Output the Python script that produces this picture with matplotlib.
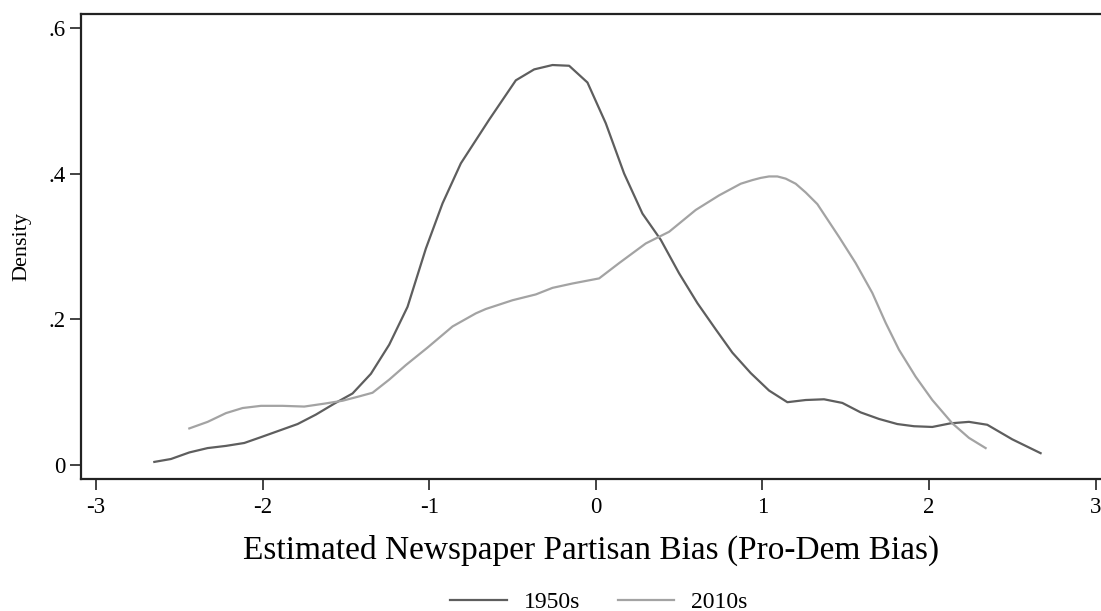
import matplotlib.pyplot as plt
import numpy as np

plt.rcParams['font.family'] = ['Liberation Serif', 'DejaVu Serif']

# density estimates
x_1950s = [-2.65, -2.55, -2.44, -2.33, -2.22, -2.11, -2.01, -1.90, -1.79, -1.68,
           -1.57, -1.46, -1.35, -1.24, -1.13, -1.02, -0.92, -0.81, -0.64, -0.48,
           -0.37, -0.26, -0.16, -0.05, 0.06, 0.17, 0.28, 0.39, 0.50, 0.61,
           0.72, 0.82, 0.93, 1.04, 1.15, 1.26, 1.37, 1.48, 1.59, 1.70,
           1.81, 1.91, 2.02, 2.13, 2.24, 2.35, 2.50, 2.67]
y_1950s = [0.004, 0.008, 0.017, 0.023, 0.026, 0.030, 0.038, 0.047, 0.056, 0.069,
           0.084, 0.098, 0.125, 0.165, 0.217, 0.297, 0.359, 0.414, 0.474, 0.528,
           0.543, 0.549, 0.548, 0.525, 0.469, 0.400, 0.345, 0.309, 0.263, 0.222,
           0.186, 0.154, 0.126, 0.102, 0.086, 0.089, 0.090, 0.085, 0.072, 0.063,
           0.056, 0.053, 0.052, 0.057, 0.059, 0.055, 0.035, 0.016]

x_2010s = [-2.44, -2.33, -2.22, -2.12, -2.01, -1.88, -1.75, -1.63, -1.52, -1.42,
           -1.34, -1.24, -1.14, -1.01, -0.86, -0.72, -0.66, -0.50, -0.36, -0.26,
           -0.14, 0.02, 0.14, 0.30, 0.44, 0.60, 0.74, 0.87, 0.94, 0.99, 1.04, 1.09,
           1.14, 1.20, 1.26, 1.33, 1.46, 1.56, 1.66, 1.74, 1.82, 1.92, 2.02, 2.14,
           2.24, 2.34]
y_2010s = [0.050, 0.059, 0.071, 0.078, 0.081, 0.081, 0.080, 0.084, 0.088, 0.094,
           0.099, 0.117, 0.137, 0.161, 0.190, 0.208, 0.214, 0.226, 0.234, 0.243,
           0.249, 0.256, 0.277, 0.304, 0.320, 0.350, 0.370, 0.386, 0.391, 0.394, 0.396, 0.396,
           0.393, 0.386, 0.374, 0.358, 0.313, 0.277, 0.236, 0.195, 0.158, 0.121, 0.089, 0.057,
           0.037, 0.023]

xticks = [-3, -2, -1, 0, 1, 2, 3]
yticks = [0, 0.2, 0.4, 0.6]
ytick_labels = ['0', '.2', '.4', '.6']

fig = plt.figure(figsize=(11.01, 6.11), dpi=100)
ax = fig.add_axes([0.0736, 0.216, 0.926, 0.761])

ax.plot(x_1950s, y_1950s, color='#5e5e5e', lw=1.6, label='1950s')
ax.plot(x_2010s, y_2010s, color='#a3a3a3', lw=1.6, label='2010s')

ax.set_xlim(-3.09, 3.03)
ax.set_ylim(-0.0195, 0.619)
ax.set_xticks(xticks)
ax.set_xticklabels([str(t) for t in xticks])
ax.set_yticks(yticks)
ax.set_yticklabels(ytick_labels)
ax.tick_params(length=8, width=1.2, labelsize=16.5, color='#222222', pad=5)
ax.tick_params(axis='y', pad=3)

for side in ['left', 'bottom', 'top']:
    ax.spines[side].set_linewidth(1.6)
    ax.spines[side].set_color('#222222')
ax.spines['right'].set_visible(False)

ax.set_xlabel('Estimated Newspaper Partisan Bias (Pro-Dem Bias)', fontsize=24, labelpad=12)
ax.set_ylabel('Density', fontsize=16, labelpad=12)

fig.legend(loc='center', bbox_to_anchor=(0.544, 0.014), ncol=2, frameon=False,
           fontsize=17, handlelength=2.4, columnspacing=1.6, handletextpad=0.7)

fig.savefig('out.png', dpi=100)
